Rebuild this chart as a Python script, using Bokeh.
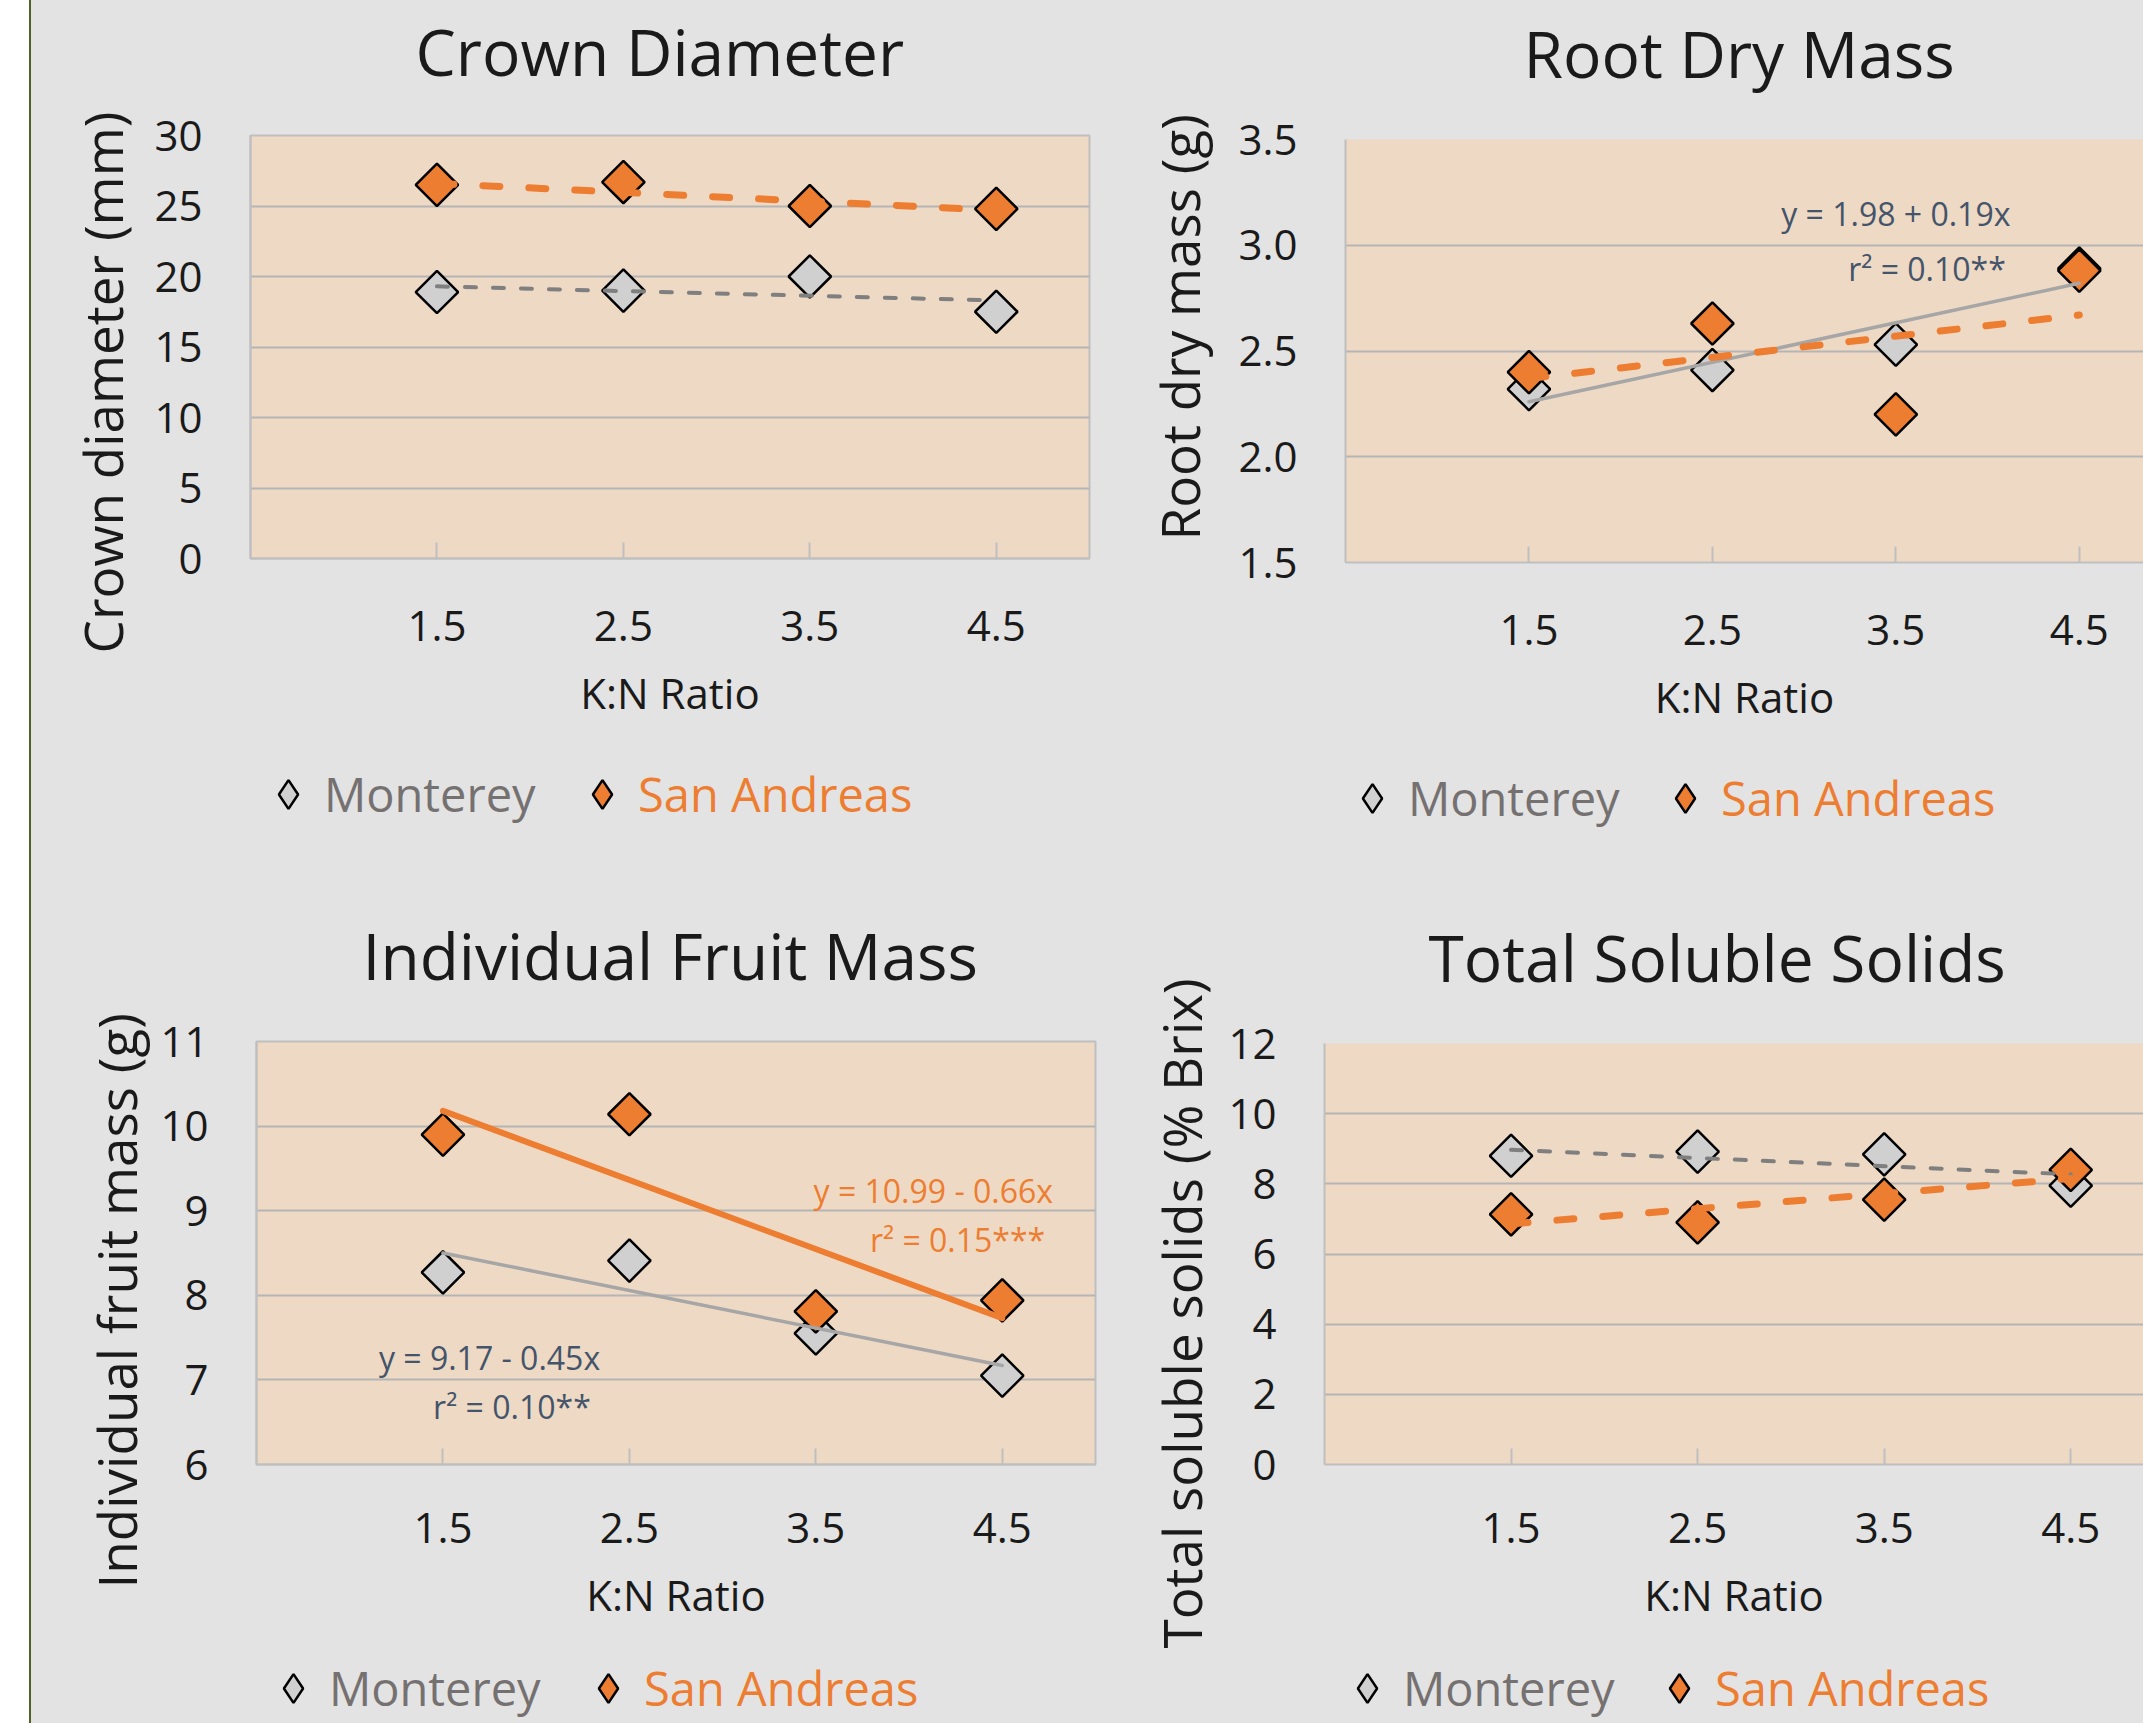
from bokeh.plotting import figure
from bokeh.models import FixedTicker, PrintfTickFormatter, Legend, LegendItem, Div, Range1d, Title
from bokeh.layouts import row, column
from bokeh.embed import file_html
from bokeh.resources import INLINE
from bokeh.core.properties import value
import numpy as np

# ---------------- data ----------------
kn_ratio = [1.5, 2.5, 3.5, 4.5]
kn_labels = ["1.5", "2.5", "3.5", "4.5"]
trend_x = [1.5, 4.5]

crown_monterey = [18.9, 19.0, 20.0, 17.5]
crown_san_andreas = [26.5, 26.7, 25.0, 24.8]
crown_trend_monterey = [19.3, 18.3]
crown_trend_san_andreas = [26.6, 24.7]

root_monterey = [2.32, 2.41, 2.53, 2.89]
root_san_andreas = [2.40, 2.63, 2.20, 2.88]
root_trend_monterey = [2.26, 2.82]
root_trend_san_andreas = [2.37, 2.67]

fruit_monterey = [8.27, 8.41, 7.55, 7.05]
fruit_san_andreas = [9.90, 10.14, 7.81, 7.94]
fruit_trend_monterey = [8.50, 7.17]
fruit_trend_san_andreas = [10.18, 7.73]

tss_monterey = [8.80, 8.92, 8.84, 7.95]
tss_san_andreas = [7.13, 6.90, 7.55, 8.40]
tss_trend_monterey = [8.97, 8.27]
tss_trend_san_andreas = [6.86, 8.15]

series_names = ["Monterey", "San Andreas"]

# ---------------- style ----------------
FONT = "Open Sans"
BG = "#E3E3E3"
PLOT_BG = "#EED9C4"
GRID = "#B5B5B5"
ORANGE = "#ED7D31"
GREY_FILL = "#D0D0D0"
GREY_DASH = "#7F7F7F"
GREY_SOLID = "#A6A6A6"
EQ_COLOR = "#44546A"
TEXT = "#1A1A1A"
LEG_GREY = "#767171"

MARKER = dict(marker="square", angle=np.pi / 4, size=30, line_color="black", line_width=2.5)


def style_title(t, text, off, so):
    t.text = text
    t.align = "left"
    t.offset = off
    t.vertical_align = "top"
    t.standoff = so
    t.text_font = FONT
    t.text_font_size = "64px"
    t.text_font_style = "normal"
    t.text_color = TEXT


def make_title_fig(width, height, text, off, so):
    tf = figure(width=width, height=height, output_backend="svg", toolbar_location=None,
                x_range=Range1d(0, 1), y_range=Range1d(0, 1),
                x_axis_location=None, y_axis_location=None, min_border=0)
    tf.grid.visible = False
    tf.outline_line_color = None
    tf.background_fill_color = BG
    tf.border_fill_color = BG
    style_title(tf.title, text, off, so)
    return tf


def make_panel(title, title_off, title_so, ylabel, ylab_off, ylab_so, yr, yticks, fmt,
               mont, sa, t_m, t_sa, styles, width, height, borders, x_end, outline,
               xstand, notes):
    p = figure(width=width, height=height, output_backend="svg",
               toolbar_location=None,
               x_range=Range1d(0.5, x_end), y_range=Range1d(*yr),
               min_border_left=borders[0], min_border_right=borders[1],
               min_border_top=borders[2], min_border_bottom=borders[3])
    p.background_fill_color = PLOT_BG
    p.border_fill_color = BG
    p.outline_line_color = "#BFBFBF" if outline else None
    p.outline_line_width = 2

    if title is None:
        p.title.visible = False
        p.title.text = ""
    else:
        style_title(p.title, title, title_off, title_so)

    # x axis
    xa = p.xaxis[0]
    xa.ticker = FixedTicker(ticks=kn_ratio)
    xa.major_label_overrides = dict(zip(kn_ratio, kn_labels))
    xa.axis_line_color = "#BFBFBF"
    xa.axis_line_width = 2
    xa.major_tick_in = 16
    xa.major_tick_out = 0
    xa.major_tick_line_color = "#BFBFBF"
    xa.major_tick_line_width = 2
    xa.minor_tick_line_color = None
    xa.major_label_standoff = xstand
    xa.major_label_text_font = FONT
    xa.major_label_text_font_size = "42px"
    xa.major_label_text_color = TEXT
    xa.axis_label = "K:N Ratio"
    xa.axis_label_text_font = FONT
    xa.axis_label_text_font_size = "42px"
    xa.axis_label_text_font_style = "normal"
    xa.axis_label_text_color = TEXT
    xa.axis_label_standoff = 20

    # y axis
    ya = p.yaxis[0]
    ya.ticker = FixedTicker(ticks=yticks)
    ya.formatter = PrintfTickFormatter(format=fmt)
    ya.axis_line_color = "#BFBFBF"
    ya.axis_line_width = 2
    ya.major_tick_in = 0
    ya.major_tick_out = 0
    ya.minor_tick_line_color = None
    ya.major_label_standoff = 48
    ya.major_label_text_font = FONT
    ya.major_label_text_font_size = "42px"
    ya.major_label_text_color = TEXT

    ytitle = Title(text=ylabel, align="left", offset=ylab_off, standoff=ylab_so,
                   text_font=FONT, text_font_size="53px", text_font_style="normal",
                   text_color=TEXT)
    p.add_layout(ytitle, "left")

    p.xgrid.grid_line_color = None
    p.ygrid.grid_line_color = GRID
    p.ygrid.grid_line_width = 2

    p.scatter(kn_ratio, mont, fill_color=GREY_FILL, **MARKER)
    p.scatter(kn_ratio, sa, fill_color=ORANGE, **MARKER)

    m_style, sa_style = styles
    p.line(trend_x, t_m, line_cap="round", **m_style)
    p.line(trend_x, t_sa, line_cap="round", **sa_style)

    for (tx, ty, txt, col) in notes:
        p.text([tx], [ty], text=[txt], text_font=value(FONT), text_font_size="32px",
               text_color=col, text_align="center", text_baseline="middle")
    return p


def make_legend(width, height, mont, sa, positions, vy):
    lf = figure(width=width, height=height, output_backend="svg", toolbar_location=None,
                x_range=Range1d(100, 101), y_range=Range1d(100, 101),
                x_axis_location=None, y_axis_location=None, min_border=0)
    lf.grid.visible = False
    lf.outline_line_color = None
    lf.background_fill_color = BG
    lf.border_fill_color = BG
    leg_marker = dict(marker="diamond", size=30, line_color="black", line_width=2.5)
    r_m = lf.scatter(kn_ratio, mont, fill_color=GREY_FILL, **leg_marker)
    r_sa = lf.scatter(kn_ratio, sa, fill_color=ORANGE, **leg_marker)
    for r, name, col, vx in zip([r_m, r_sa], series_names, [LEG_GREY, ORANGE], positions):
        leg = Legend(items=[LegendItem(label=name, renderers=[r])],
                     location=(vx, vy), orientation="horizontal",
                     glyph_width=72, glyph_height=72, label_standoff=0,
                     padding=0, margin=0, spacing=0,
                     background_fill_alpha=0, border_line_color=None,
                     label_text_font=FONT, label_text_font_size="47px",
                     label_text_color=col)
        lf.add_layout(leg)
    return lf


dash_grey = dict(line_color=GREY_DASH, line_width=4, line_dash="11 17")
dash_orange = dict(line_color=ORANGE, line_width=7, line_dash="17 29")
solid_grey = dict(line_color=GREY_SOLID, line_width=3.5)
solid_orange = dict(line_color=ORANGE, line_width=6)

LW, RW = 1089, 1023
T1H, T2H = 104, 110    # title strips above the top panels
TH, BH = 745, 782      # main figure area heights (top includes title strip)
TLH, BLH = 125, 71     # legend strip heights

t1 = make_title_fig(LW, T1H, "Crown Diameter", 165, 14)
t2 = make_title_fig(RW, T2H, "Root Dry Mass", 178, 19)

p1 = make_panel(None, 0, 0, "Crown diameter (mm)", -95, 26,
                (0, 30), [0, 5, 10, 15, 20, 25, 30], "%d",
                crown_monterey, crown_san_andreas, crown_trend_monterey, crown_trend_san_andreas,
                (dash_grey, dash_orange), LW, TH - T1H, (219, 31, 135 - T1H, 187), 5.0, True, 52, [])

p2 = make_panel(None, 0, 0, "Root dry mass (g)", 22, 40,
                (1.5, 3.5), [1.5, 2.0, 2.5, 3.0, 3.5], "%.1f",
                root_monterey, root_san_andreas, root_trend_monterey, root_trend_san_andreas,
                (solid_grey, dash_orange), RW, TH - T2H, (225, 0, 139 - T2H, 183), 4.85, False, 52,
                [(3.50, 3.15, "y = 1.98 + 0.19x", EQ_COLOR),
                 (3.67, 2.89, "r² = 0.10**", EQ_COLOR)])

p3 = make_panel("Individual Fruit Mass", 106, 81, "Individual fruit mass (g)", -124, 10,
                (6, 11), [6, 7, 8, 9, 10, 11], "%d",
                fruit_monterey, fruit_san_andreas, fruit_trend_monterey, fruit_trend_san_andreas,
                (solid_grey, solid_orange), LW, BH, (225, 25, 171, 188), 5.0, True, 48,
                [(4.13, 9.24, "y = 10.99 - 0.66x", ORANGE),
                 (4.26, 8.66, "r² = 0.15***", ORANGE),
                 (1.75, 7.27, "y = 9.17 - 0.45x", EQ_COLOR),
                 (1.87, 6.68, "r² = 0.10**", EQ_COLOR)])

p4 = make_panel("Total Soluble Solids", 104, 81, "Total soluble solids (% Brix)", -184, 16,
                (0, 12), [0, 2, 4, 6, 8, 10, 12], "%d",
                tss_monterey, tss_san_andreas, tss_trend_monterey, tss_trend_san_andreas,
                (dash_grey, dash_orange), RW, BH, (204, 0, 173, 188), 4.89, False, 48, [])

l1 = make_legend(LW, TLH, crown_monterey, crown_san_andreas, (2, 316), 40)
l2 = make_legend(RW, TLH, root_monterey, root_san_andreas, (-9, 304), 36)
l3 = make_legend(LW, BLH, fruit_monterey, fruit_san_andreas, (1, 316), -1)
l4 = make_legend(RW, BLH, tss_monterey, tss_san_andreas, (7, 319), -1)

bgs = {"background-color": BG}
strip = Div(text="", width=31, height=TH + TLH + BH + BLH, margin=0,
            styles={"background-color": "#FFFFFF", "border-right": "2px solid #4F6228",
                    "box-sizing": "border-box"})

grid = column(row(column(t1, p1, l1, styles=bgs), column(t2, p2, l2, styles=bgs), styles=bgs),
              row(column(p3, l3, styles=bgs), column(p4, l4, styles=bgs), styles=bgs),
              styles=bgs)
layout = row(strip, grid, styles=bgs)

open("out.html", "w").write(file_html(layout, INLINE))
